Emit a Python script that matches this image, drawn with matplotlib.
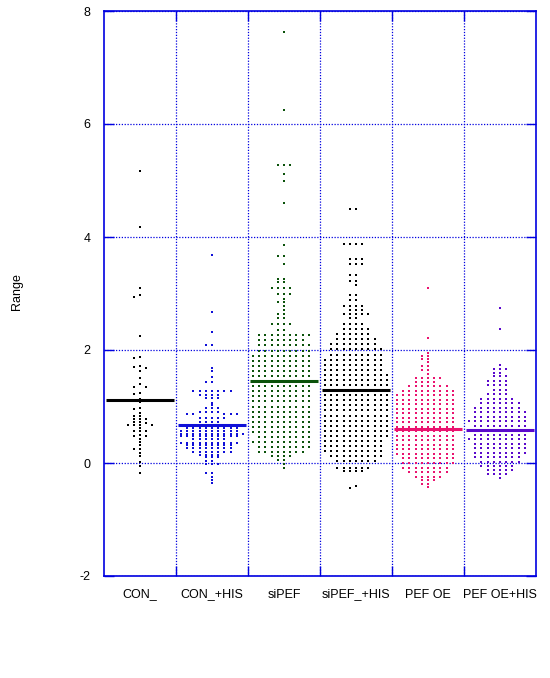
import numpy as np
import matplotlib
matplotlib.use('Agg')
import matplotlib.pyplot as plt

plt.rcParams['font.family'] = ['Liberation Sans', 'DejaVu Sans']
plt.rcParams['axes.unicode_minus'] = False

categories = ['CON_', 'CON_+HIS', 'siPEF', 'siPEF_+HIS', 'PEF OE', 'PEF OE+HIS']
point_colors = ['#000000', '#1010d8', '#0b520b', '#000000', '#ea136f', '#5a08cc']
mean_values = [1.11, 0.67, 1.45, 1.29, 0.61, 0.58]

# value rows: (value, number of points at that level)
con_vals = [5.16, 4.18, 3.10, 2.98, 2.94, 2.25, 1.88, 1.86, 1.72, 1.70, 1.68, 1.62, 1.51, 1.39,
            1.35, 1.24, 1.23, 1.14, 1.08, 0.98, 0.96, 0.89, 0.84, 0.78, 0.73, 0.71, 0.68, 0.62,
            0.57, 0.56, 0.50, 0.47, 0.43, 0.38, 0.32, 0.25, 0.18, 0.13, 0.02, -0.05, -0.17]
con_counts = [1, 1, 1, 1, 1, 1, 1, 1, 1, 1, 1, 1, 1, 1,
              2, 1, 1, 1, 1, 1, 1, 1, 2, 3, 2, 1, 4, 1,
              2, 1, 1, 2, 1, 1, 1, 2, 1, 1, 1, 1, 1]

conhis_vals = [3.69, 2.68, 2.32, 2.09, 1.69, 1.62, 1.53, 1.43, 1.28, 1.21, 1.15, 1.07, 1.02,
               0.97, 0.90, 0.86, 0.80, 0.73, 0.68, 0.62, 0.57, 0.52, 0.47, 0.42, 0.36, 0.31,
               0.26, 0.20, 0.15, 0.10, 0.04, -0.01, -0.17, -0.25, -0.30, -0.36]
conhis_counts = [1, 1, 1, 2, 1, 1, 1, 2, 7, 4, 3, 1, 1,
                 3, 4, 5, 5, 4, 3, 9, 10, 11, 10, 6, 10, 8,
                 8, 7, 4, 3, 2, 3, 2, 1, 1, 1]

sipef_vals = [7.62, 6.25, 5.28, 5.12, 5.00, 4.61, 3.85, 3.66, 3.53, 3.26,
              3.21, 3.10, 3.00, 2.91, 2.85, 2.78, 2.71, 2.63, 2.56, 2.46,
              2.36, 2.27, 2.17, 2.08, 1.99, 1.90, 1.81, 1.72, 1.63, 1.54,
              1.45, 1.36, 1.27, 1.18, 1.09, 1.00, 0.91, 0.82, 0.73, 0.64,
              0.55, 0.46, 0.37, 0.28, 0.20, 0.12, 0.06, -0.01, -0.08]
sipef_counts = [1, 1, 3, 1, 1, 1, 1, 2, 1, 2,
                2, 4, 3, 1, 2, 1, 1, 2, 2, 4,
                2, 9, 8, 9, 9, 10, 10, 10, 10, 10,
                10, 10, 10, 10, 10, 10, 10, 10, 10, 10,
                10, 9, 10, 9, 8, 4, 2, 1, 1]

sipefhis_vals = [4.49, 3.88, 3.61, 3.53, 3.32, 3.22, 3.15, 2.97, 2.89, 2.77,
                 2.70, 2.64, 2.56, 2.46, 2.37, 2.28, 2.19, 2.10, 2.01, 1.92,
                 1.83, 1.74, 1.65, 1.56, 1.47, 1.38, 1.29, 1.20, 1.11, 1.02,
                 0.93, 0.84, 0.75, 0.66, 0.57, 0.48, 0.39, 0.30, 0.21, 0.12,
                 0.03, -0.08, -0.15, -0.41, -0.45]
sipefhis_counts = [2, 4, 3, 3, 2, 2, 1, 2, 2, 4,
                   3, 5, 2, 4, 5, 6, 7, 8, 9, 9,
                   10, 10, 10, 11, 11, 11, 11, 11, 11, 11,
                   11, 11, 11, 11, 11, 11, 10, 10, 10, 9,
                   7, 6, 4, 1, 1]

pefoe_vals = [3.10, 2.22, 1.95, 1.89, 1.84, 1.78, 1.71, 1.64, 1.57, 1.50,
              1.43, 1.36, 1.28, 1.20, 1.12, 1.04, 0.96, 0.88, 0.80, 0.72,
              0.64, 0.56, 0.48, 0.40, 0.32, 0.24, 0.16, 0.08, 0.00, -0.08,
              -0.16, -0.24, -0.30, -0.37, -0.43]
pefoe_counts = [1, 1, 1, 2, 2, 1, 2, 2, 1, 5,
                4, 7, 9, 10, 10, 10, 10, 10, 10, 10,
                10, 10, 10, 10, 10, 10, 10, 9, 9, 8,
                7, 5, 3, 2, 1]

pefoehis_vals = [2.75, 2.37, 1.74, 1.67, 1.60, 1.54, 1.46, 1.38, 1.30, 1.22,
                 1.14, 1.06, 0.98, 0.90, 0.82, 0.74, 0.66, 0.58, 0.50, 0.42,
                 0.34, 0.26, 0.18, 0.10, 0.02, -0.06, -0.13, -0.20, -0.26]
pefoehis_counts = [1, 1, 1, 3, 2, 3, 4, 4, 3, 4,
                   6, 7, 8, 9, 9, 10, 9, 10, 9, 10,
                   9, 9, 9, 8, 7, 6, 5, 4, 1]

groups = [
    (con_vals, con_counts),
    (conhis_vals, conhis_counts),
    (sipef_vals, sipef_counts),
    (sipefhis_vals, sipefhis_counts),
    (pefoe_vals, pefoe_counts),
    (pefoehis_vals, pefoehis_counts),
]


def swarm_offsets(values, overlap=0.045):
    order = np.argsort(-values, kind='stable')
    placed = {}
    offs = np.zeros(len(values))
    for i in order:
        v = values[i]
        for j in range(400):
            if j == 0:
                k = 0
            elif j % 2 == 1:
                k = -((j + 1) // 2)
            else:
                k = j // 2
            if all(abs(v - y) >= overlap for y in placed.get(k, [])):
                break
        placed.setdefault(k, []).append(v)
        offs[i] = k
    return offs


W, H = 550, 678
fig = plt.figure(figsize=(W / 100, H / 100), dpi=100)
ax = fig.add_axes([104 / W, 1 - 576 / H, 432 / W, 565 / H])

axis_blue = '#0000e0'
step = 6.2 / 72.0
positions = np.arange(1, len(categories) + 1)

for pos, (vals, cnts), col, m in zip(positions, groups, point_colors, mean_values):
    y = np.repeat(np.array(vals, dtype=float), cnts)
    offs = swarm_offsets(y)
    ax.plot(pos + offs * step, y, linestyle='none', marker='s', ms=1.7, mew=0,
            color=col, zorder=3, antialiased=False)
    ax.hlines(m, pos - 0.47, pos + 0.47, color=col, lw=2.2, zorder=4)

ax.set_xlim(0.5, len(categories) + 0.5)
ax.set_ylim(-2, 8)
ax.set_yticks([-2, 0, 2, 4, 6, 8])
ax.set_xticks(positions[:-1] + 0.5)
ax.set_xticklabels([])
ax.set_xticks(positions, minor=True)
ax.set_xticklabels(categories, minor=True, fontsize=9)

ax.grid(True, which='major', color=axis_blue, linestyle=(0, (1, 1.3)), linewidth=0.9)
ax.set_axisbelow(True)

ax.tick_params(which='major', direction='in', length=7, width=1, color=axis_blue,
               left=True, right=True, top=True, bottom=True, labelsize=9, pad=9.5)
ax.tick_params(axis='x', which='minor', length=0, pad=9)
ax.tick_params(axis='y', which='minor', length=0)

for s in ax.spines.values():
    s.set_color(axis_blue)
    s.set_linewidth(1.2)

ax.set_ylabel('Range', fontsize=9)
ax.yaxis.set_label_coords(-(104 - 23) / 432, 0.503)

fig.savefig('out.png', dpi=100)
